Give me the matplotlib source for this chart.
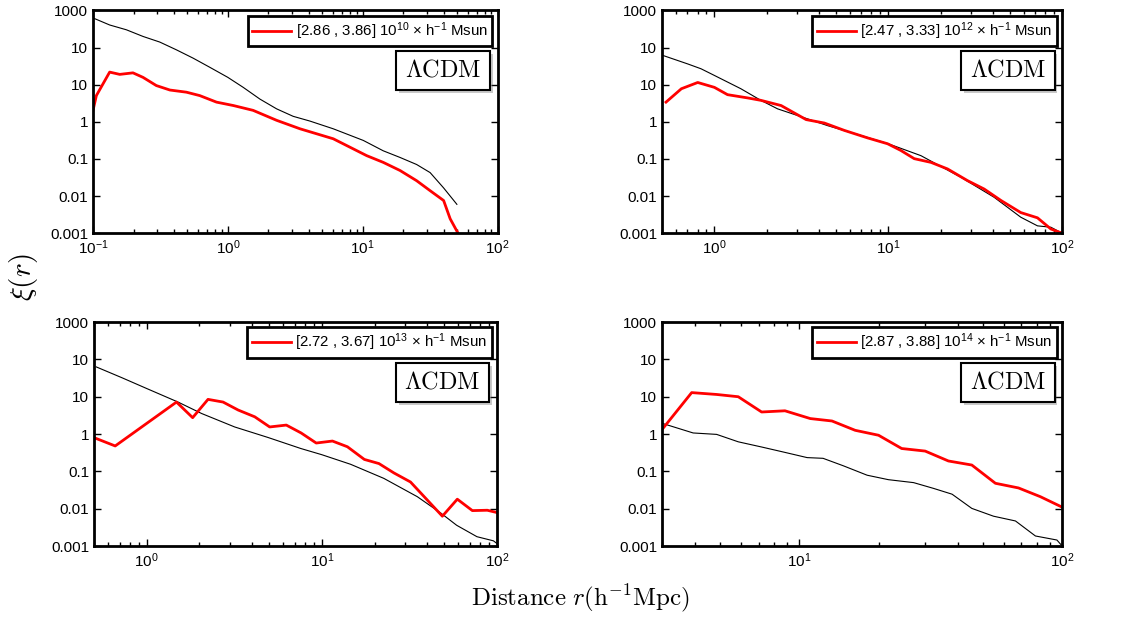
import numpy as np
import matplotlib
matplotlib.use("Agg")
import matplotlib.pyplot as plt
import matplotlib.patheffects as pe
from matplotlib.ticker import LogLocator, NullFormatter, FixedLocator, FixedFormatter

plt.rcParams['font.family'] = ['Liberation Sans', 'DejaVu Sans']
plt.rcParams['mathtext.fontset'] = 'custom'
plt.rcParams['mathtext.rm'] = 'Liberation Sans'
plt.rcParams['mathtext.it'] = 'Liberation Sans:italic'
plt.rcParams['mathtext.bf'] = 'Liberation Sans:bold'

# mass bins (legend labels)
labels = [r"[2.86 , 3.86] $10^{10}$ × h$^{-1}$ Msun",
          r"[2.47 , 3.33] $10^{12}$ × h$^{-1}$ Msun",
          r"[2.72 , 3.67] $10^{13}$ × h$^{-1}$ Msun",
          r"[2.87 , 3.88] $10^{14}$ × h$^{-1}$ Msun"]

# panel 1 : 10^10
r_lcdm1 = [0.1, 0.133, 0.177, 0.235, 0.313, 0.416, 0.553, 0.735, 1.0, 1.30, 1.73, 2.30,
           3.05, 4.06, 6.05, 10.1, 14.2, 18.9, 25.1, 31.6, 39.8, 49.9]
xi_lcdm1 = [631, 407, 302, 200, 141, 87, 52, 29.5, 15.8, 8.5, 4.1, 2.24,
            1.41, 1.05, 0.65, 0.316, 0.166, 0.11, 0.071, 0.043, 0.0166, 0.006]
r_halo1 = [0.100, 0.106, 0.133, 0.158, 0.198, 0.235, 0.295, 0.372, 0.493, 0.619, 0.824, 1.10,
           1.54, 2.30, 3.43, 6.05, 10.7, 14.2, 18.9, 25.1, 31.6, 39.8, 44.5, 51.3]
xi_halo1 = [2.0, 5.1, 21.9, 19.0, 20.9, 15.8, 9.5, 7.2, 6.3, 5.1, 3.4, 2.75,
            2.04, 1.10, 0.65, 0.35, 0.123, 0.081, 0.049, 0.026, 0.014, 0.0076, 0.00245, 0.00095]

# panel 2 : 10^12
r_lcdm2 = [0.505, 0.703, 0.838, 1.0, 1.42, 1.85, 2.31, 3.44, 4.48, 6.97, 10.0, 15.4,
           26.2, 40.6, 57.8, 72.1, 86.1, 100]
xi_lcdm2 = [61.7, 36.3, 26.9, 17.8, 7.8, 3.8, 2.24, 1.20, 0.79, 0.43, 0.257, 0.123,
            0.032, 0.0093, 0.0027, 0.00158, 0.00145, 0.001]
r_halo2 = [0.527, 0.646, 0.802, 1.0, 1.19, 1.56, 1.85, 2.42, 3.37, 4.29, 5.58, 7.60,
           9.91, 11.8, 14.1, 17.6, 21.9, 28.6, 35.6, 44.5, 57.8, 72.1, 86.1, 100]
xi_halo2 = [3.4, 7.8, 11.5, 8.5, 5.4, 4.4, 3.8, 2.75, 1.15, 0.93, 0.59, 0.37,
            0.257, 0.17, 0.102, 0.081, 0.054, 0.026, 0.0155, 0.0076, 0.0036, 0.0026, 0.0013, 0.001]

# panel 3 : 10^13
r_lcdm3 = [0.515, 0.721, 1.0, 1.51, 2.06, 3.18, 4.93, 7.59, 10, 14.6, 22.6, 35.1,
           47.9, 58.9, 76.9, 95.5, 100]
xi_lcdm3 = [63, 32.4, 16.6, 7.2, 3.55, 1.55, 0.81, 0.41, 0.28, 0.155, 0.065, 0.021,
            0.0076, 0.0036, 0.00178, 0.00138, 0.00117]
r_halo3 = [0.515, 0.661, 1.48, 1.83, 2.24, 2.73, 3.33, 4.14, 5.04, 6.27, 7.62, 9.29,
           11.5, 14.0, 17.5, 21.2, 25.8, 32.1, 39.2, 48.8, 59.4, 72.4, 88.1, 100]
xi_halo3 = [0.76, 0.48, 7.2, 2.75, 8.5, 7.2, 4.4, 2.9, 1.55, 1.74, 1.07, 0.575,
            0.65, 0.457, 0.209, 0.162, 0.091, 0.052, 0.019, 0.0063, 0.018, 0.0089, 0.0091, 0.0079]

# panel 4 : 10^14
r_lcdm4 = [3.03, 3.94, 4.84, 5.85, 7.18, 8.69, 10.7, 12.3, 14.7, 18.1, 21.8, 27.2,
           32.4, 38.1, 45.3, 54.8, 66.4, 79.1, 95.5, 100]
xi_lcdm4 = [1.9, 1.07, 0.98, 0.62, 0.45, 0.33, 0.234, 0.224, 0.141, 0.079, 0.060, 0.050,
            0.035, 0.0245, 0.0102, 0.0063, 0.0047, 0.00186, 0.00145, 0.001]
r_halo4 = [3.0, 3.89, 4.84, 5.85, 7.18, 8.81, 11.0, 13.3, 16.3, 20.0, 24.5, 30.1,
           36.9, 45.3, 55.7, 68.2, 82.6, 100]
xi_halo4 = [1.32, 12.9, 11.5, 10.0, 3.9, 4.2, 2.6, 2.24, 1.26, 0.93, 0.41, 0.35,
            0.19, 0.148, 0.048, 0.036, 0.021, 0.011]

xlims = [(0.1, 100), (0.5, 100), (0.5, 100), (3, 100)]
ytick_vals = [0.001, 0.01, 0.1, 1, 10, 100, 1000]
ytick_labels = ['0.001', '0.01', '0.1', '1', '10', '10', '1000']

panels = [(r_lcdm1, xi_lcdm1, r_halo1, xi_halo1),
          (r_lcdm2, xi_lcdm2, r_halo2, xi_halo2),
          (r_lcdm3, xi_lcdm3, r_halo3, xi_halo3),
          (r_lcdm4, xi_lcdm4, r_halo4, xi_halo4)]

rects = [[0.0827, 0.622, 0.360, 0.361],
         [0.589, 0.622, 0.356, 0.361],
         [0.0836, 0.115, 0.3585, 0.363],
         [0.589, 0.115, 0.356, 0.363]]

fig = plt.figure(figsize=(11.24, 6.17), dpi=100)

for i in range(4):
    ax = fig.add_axes(rects[i])
    rl, xl, rh, xh = panels[i]
    ax.plot(rl, xl, color='black', lw=0.8)
    ax.plot(rh, xh, color='red', lw=2.0, label=labels[i])
    ax.set_xscale('log')
    ax.set_yscale('log')
    ax.set_xlim(xlims[i])
    ax.set_ylim(0.001, 1000)
    ax.yaxis.set_major_locator(FixedLocator(ytick_vals))
    ax.yaxis.set_major_formatter(FixedFormatter(ytick_labels))
    ax.yaxis.set_minor_locator(FixedLocator([]))
    ax.xaxis.set_major_locator(LogLocator(base=10))
    ax.xaxis.set_minor_locator(LogLocator(base=10, subs=np.arange(2, 10)))
    ax.xaxis.set_minor_formatter(NullFormatter())
    ax.tick_params(which='both', direction='in', top=True, right=True, labelsize=11, width=1)
    ax.tick_params(which='major', length=5)
    ax.tick_params(which='minor', length=3)
    for s in ax.spines.values():
        s.set_linewidth(2)
    leg = ax.legend(loc='upper right', fontsize=10.8, handlelength=2.6, fancybox=False,
                    framealpha=1, borderaxespad=0.35, borderpad=0.3, handletextpad=0.3)
    leg.get_frame().set_edgecolor('black')
    leg.get_frame().set_linewidth(2)
    t = ax.text(0.96, 0.78, r'$\Lambda\mathrm{CDM}$', transform=ax.transAxes,
                ha='right', va='top', fontsize=17.5, math_fontfamily='cm',
                bbox=dict(boxstyle='square,pad=0.35', fc='white', ec='black', lw=1.5))
    t.get_bbox_patch().set_path_effects([pe.SimplePatchShadow(offset=(2, -2), alpha=0.3),
                                         pe.Normal()])

fig.text(0.021, 0.55, r'$\xi(r)$', rotation=90, ha='center', va='center',
         fontsize=21, math_fontfamily='cm')
fig.text(0.516, 0.03, r'$\mathrm{Distance}\ r(\mathrm{h}^{-1}\mathrm{Mpc})$', ha='center',
         va='center', fontsize=18, math_fontfamily='cm')

fig.savefig('out.png', dpi=100)
